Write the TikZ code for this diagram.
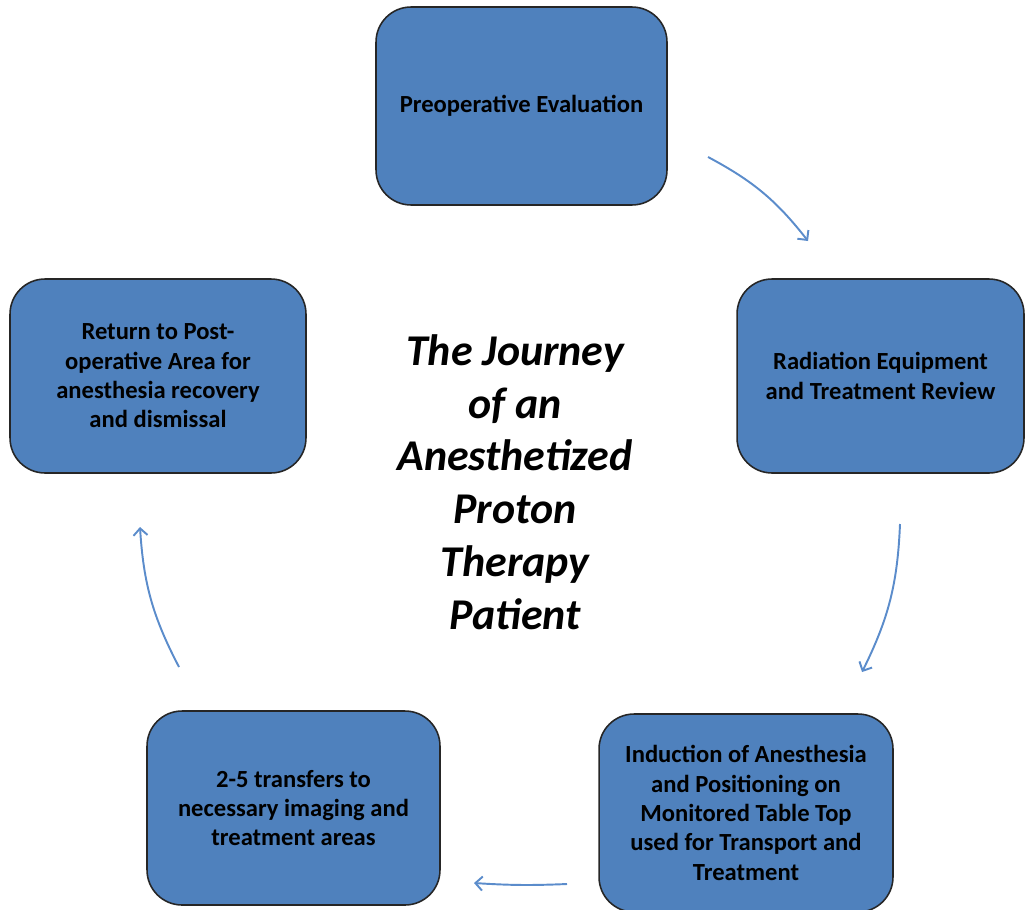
\documentclass[tikz,border=0pt]{standalone}
\usepackage{fontspec}
\setmainfont{Carlito}
\usetikzlibrary{positioning,arrows.meta}
\definecolor{boxblue}{HTML}{4F81BD}
\definecolor{flowblue}{HTML}{5B8CCB}

\begin{document}
\begin{tikzpicture}[x=0.02cm, y=-0.02cm,
  stage/.style={draw=black!85, line width=0.9pt, fill=boxblue, rounded corners=0.7cm,
    align=center, inner sep=0pt, font=\fontsize{14}{16.7}\selectfont\bfseries},
  flow/.style={draw=flowblue, line width=1.1pt, -{Straight Barb[length=4pt,width=8pt]}}]
  \useasboundingbox (0,0) rectangle (1026,909);
  % Stages, clockwise from the top
  \node[stage, minimum width=5.82cm, minimum height=3.96cm] (preop) at (521.5,106)
    {Preoperative Evaluation};
  \node[stage, minimum width=5.74cm, minimum height=3.88cm] (review) at (880.5,376)
    {Radiation Equipment\\and Treatment Review};
  \node[stage, minimum width=5.88cm, minimum height=3.96cm] (induct) at (746,813)
    {Induction of Anesthesia\\and Positioning on\\Monitored Table Top\\used for Transport and\\Treatment};
  \node[stage, minimum width=5.86cm, minimum height=3.88cm] (transfer) at (293.5,808)
    {2-5 transfers to\\necessary imaging and\\treatment areas};
  \node[stage, minimum width=5.92cm, minimum height=3.88cm] (recover) at (158,376)
    {Return to Post-\\operative Area for\\anesthesia recovery\\and dismissal};
  % Title in the middle
  \node[align=center, font=\fontsize{25}{30}\selectfont\bfseries\itshape] (title) at (515,482)
    {The Journey\\of an\\Anesthetized\\Proton\\Therapy\\Patient};
  % Arrow ends
  \coordinate (a1) at (708,157);  \coordinate (b1) at (808,241);
  \coordinate (a2) at (900,524);  \coordinate (b2) at (862,672);
  \coordinate (a3) at (567,884);  \coordinate (b3) at (474,883);
  \coordinate (a4) at (179,667);  \coordinate (b4) at (140,527);
  \draw[flow] (a1) to[bend left=12] (b1);
  \draw[flow] (a2) to[bend left=12] (b2);
  \draw[flow] (a3) to[bend left=3] (b3);
  \draw[flow] (a4) to[bend left=12] (b4);
\end{tikzpicture}
\end{document}
